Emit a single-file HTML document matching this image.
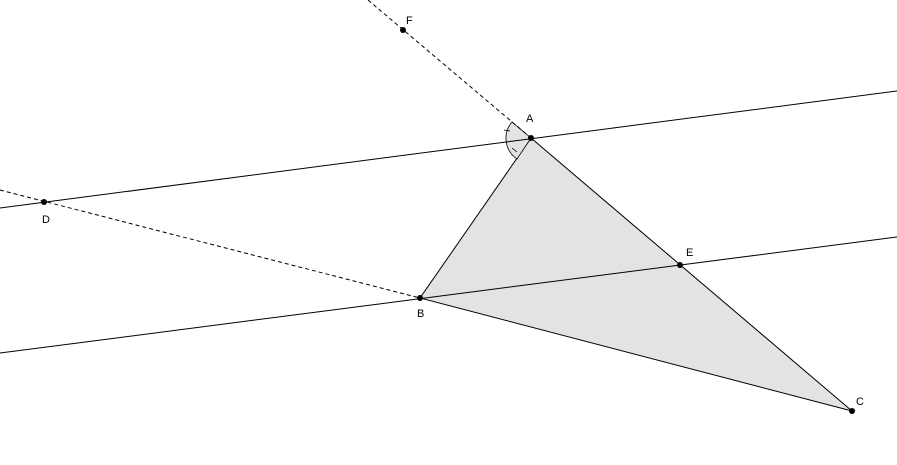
<!DOCTYPE html>
<html><head><style>body{margin:0;background:#fff}svg{display:block}text{font-family:"Liberation Sans",sans-serif;font-size:11px;fill:#000}</style></head>
<body><svg width="897" height="465" viewBox="0 0 897 465">
<polygon points="531,138 420,298 852,411" fill="#e3e3e3" stroke="#000" stroke-width="1"/>
<path d="M531,138 L512,122 A25,25 0 0 0 517,159 Z" fill="#e3e3e3" stroke="#000" stroke-width="0.8"/>
<line x1="504" y1="130" x2="510" y2="131" stroke="#000" stroke-width="0.8"/>
<line x1="512" y1="148" x2="517" y2="152" stroke="#000" stroke-width="0.8"/>
<line x1="0" y1="208" x2="897" y2="91" stroke="#000" stroke-width="1"/>
<line x1="0" y1="353" x2="897" y2="237" stroke="#000" stroke-width="1"/>
<line x1="0" y1="190" x2="420" y2="298" stroke="#000" stroke-width="1" stroke-dasharray="4,3"/>
<line x1="368" y1="0" x2="531" y2="138" stroke="#000" stroke-width="1" stroke-dasharray="4,3"/>
<g fill="#000"><circle cx="531" cy="138" r="3"/><circle cx="420" cy="298" r="3"/><circle cx="852" cy="411" r="3"/><circle cx="44" cy="202" r="3"/><circle cx="680" cy="265" r="3"/><circle cx="403" cy="30" r="3"/></g>
<text x="526" y="122">A</text><text x="417" y="317">B</text><text x="856" y="405">C</text><text x="42" y="223">D</text><text x="686" y="256">E</text><text x="406" y="24">F</text>
</svg></body></html>
